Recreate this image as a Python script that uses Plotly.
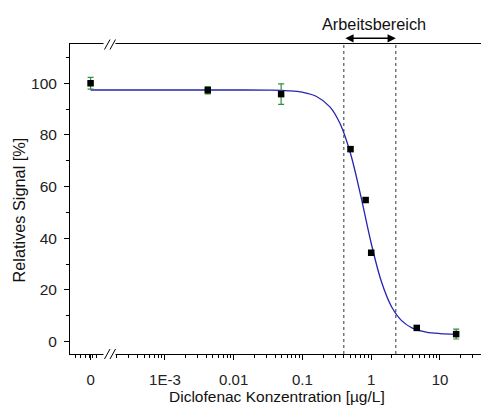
import math
import plotly.graph_objects as go

# ---- data ----
conc = [0, 0.0042, 0.049, 0.50, 0.83, 1.0, 4.6, 17.2]          # µg/L
signal = [100.0, 97.3, 95.8, 74.5, 54.8, 34.4, 5.3, 2.9]        # %
signal_err = [2.3, 1.4, 4.0, 0.8, 0.8, 0.8, 0.8, 1.9]
zero_pos = 8.3e-5   # where the "0" concentration sits on the broken log axis

fit_x = [zero_pos, 0.01, 0.0316, 0.0631, 0.1, 0.158, 0.251, 0.355, 0.501,
         0.708, 1.0, 1.413, 1.995, 2.818, 3.98, 6.31, 10.0, 17.2]
fit_y = [97.4, 97.4, 97.33, 97.09, 96.53, 94.98, 90.86, 84.2, 72.7,
         56.2, 38.07, 23.06, 13.31, 7.92, 5.22, 3.67, 3.11, 2.89]

work_range = [0.40, 2.28]  # Arbeitsbereich bounds

tick_vals = [zero_pos, 1e-3, 0.01, 0.1, 1, 10]
tick_text = ["0", "1E-3", "0.01", "0.1", "1", "10"]
y_ticks = [0, 20, 40, 60, 80, 100]

# ---- layout geometry (window pixels; page body adds an 8px offset) ----
OFF = 8
PL, PR, PT, PB = 70, 489, 44, 354        # plot area in window pixels
W, H = 489 - OFF, 406 - OFF
ML, MT = PL - OFF, PT - OFF
PW, PH = PR - PL, PB - PT
MR, MB = W - ML - PW, H - MT - PH
XMIN, XMAX = -4.38, 1.713
YMIN, YMAX = -4.8, 115.2

def px(xp):
    return (xp - PL) / PW

def py(yp):
    return (PB - yp) / PH

x_plot = [zero_pos if c == 0 else c for c in conc]

FONT = "Liberation Sans, Arial, sans-serif"
TICK_SIZE = 15
TITLE_SIZE = 16.3
fig = go.Figure()

fig.add_trace(go.Scatter(
    x=fit_x, y=fit_y, mode="lines", line=dict(color="#2424b0", width=1.3, shape="spline"),
    hoverinfo="skip", showlegend=False))

for b in work_range:
    fig.add_trace(go.Scatter(
        x=[b, b], y=[YMIN, YMAX], mode="lines",
        line=dict(color="#333333", width=1, dash="3px,3px"),
        hoverinfo="skip", showlegend=False))

fig.add_trace(go.Scatter(
    x=x_plot, y=signal, mode="markers",
    marker=dict(symbol="square", size=6.5, color="black"),
    error_y=dict(type="data", array=signal_err, color="#2f8f3a", thickness=1.2, width=3),
    showlegend=False))

# minor ticks on log axis
minor_vals = []
for k in range(-5, 2):
    for m in range(1, 10):
        v = m * 10 ** k
        lv = math.log10(v)
        if XMIN < lv < XMAX:
            p = PL + (lv - XMIN) / (XMAX - XMIN) * PW
            if not (103 < p < 116):
                minor_vals.append(v)

fig.update_layout(
    width=W, height=H, margin=dict(l=ML, r=MR, t=MT, b=MB, autoexpand=False),
    paper_bgcolor="white", plot_bgcolor="white",
    font=dict(family=FONT, size=TICK_SIZE, color="#222222"),
    xaxis=dict(type="log", range=[XMIN, XMAX], showgrid=False, zeroline=False,
               showline=True, linecolor="black", linewidth=1, mirror=True,
               tickmode="array", tickvals=tick_vals, ticktext=tick_text,
               ticks="outside", ticklen=5, tickcolor="black", ticklabelstandoff=7,
               tickfont=dict(size=TICK_SIZE),
               minor=dict(tickmode="array", tickvals=minor_vals, ticks="outside",
                          ticklen=3, tickcolor="black")),
    yaxis=dict(range=[YMIN, YMAX], showgrid=False, zeroline=False,
               showline=True, linecolor="black", linewidth=1, mirror=False,
               tickmode="array", tickvals=y_ticks,
               ticks="outside", ticklen=5, tickcolor="black", ticklabelstandoff=4,
               tickfont=dict(size=15.5),
               minor=dict(dtick=10, ticks="outside", ticklen=3, tickcolor="black")),
)

shapes = []
# axis break: white gaps and "//" marks
for yc in (354, 44.5):
    shapes.append(dict(type="rect", xref="paper", yref="paper",
                       x0=px(103.5), x1=px(115.5), y0=py(yc + 3.5), y1=py(yc - 3.5),
                       fillcolor="white", line=dict(width=0), layer="above"))
for yc in (354, 44.5):
    for x0 in (104.5, 110):
        shapes.append(dict(type="line", xref="paper", yref="paper",
                           x0=px(x0), y0=py(yc + 5), x1=px(x0 + 5.5), y1=py(yc - 5),
                           line=dict(color="black", width=1), layer="above"))
fig.update_layout(shapes=shapes)

lo = (math.log10(work_range[0]) - XMIN) / (XMAX - XMIN)
hi = (math.log10(work_range[1]) - XMIN) / (XMAX - XMIN)
fig.add_annotation(x=hi, y=py(38.3), xref="paper", yref="paper",
                   ax=-(hi - lo) * PW, ay=0, axref="pixel", ayref="pixel",
                   text="", showarrow=True, arrowhead=2, startarrowhead=2,
                   arrowside="end+start", arrowsize=1.1, startarrowsize=1.1,
                   arrowwidth=1.5, arrowcolor="black", standoff=0, startstandoff=0)
fig.add_annotation(x=px(374), y=py(24), xref="paper", yref="paper",
                   text="Arbeitsbereich", showarrow=False,
                   font=dict(size=TITLE_SIZE, color="#111111"), xanchor="center", yanchor="middle")
fig.add_annotation(x=px(277), y=py(396.5), xref="paper", yref="paper",
                   text="Diclofenac Konzentration [µg/L]", showarrow=False,
                   font=dict(size=15.5, color="#111111"), xanchor="center", yanchor="middle")
fig.add_annotation(x=px(18), y=py(210.5), xref="paper", yref="paper",
                   text="Relatives Signal [%]", showarrow=False, textangle=-90,
                   font=dict(size=TITLE_SIZE, color="#111111"), xanchor="center", yanchor="middle")

fig.write_html("out.html")
